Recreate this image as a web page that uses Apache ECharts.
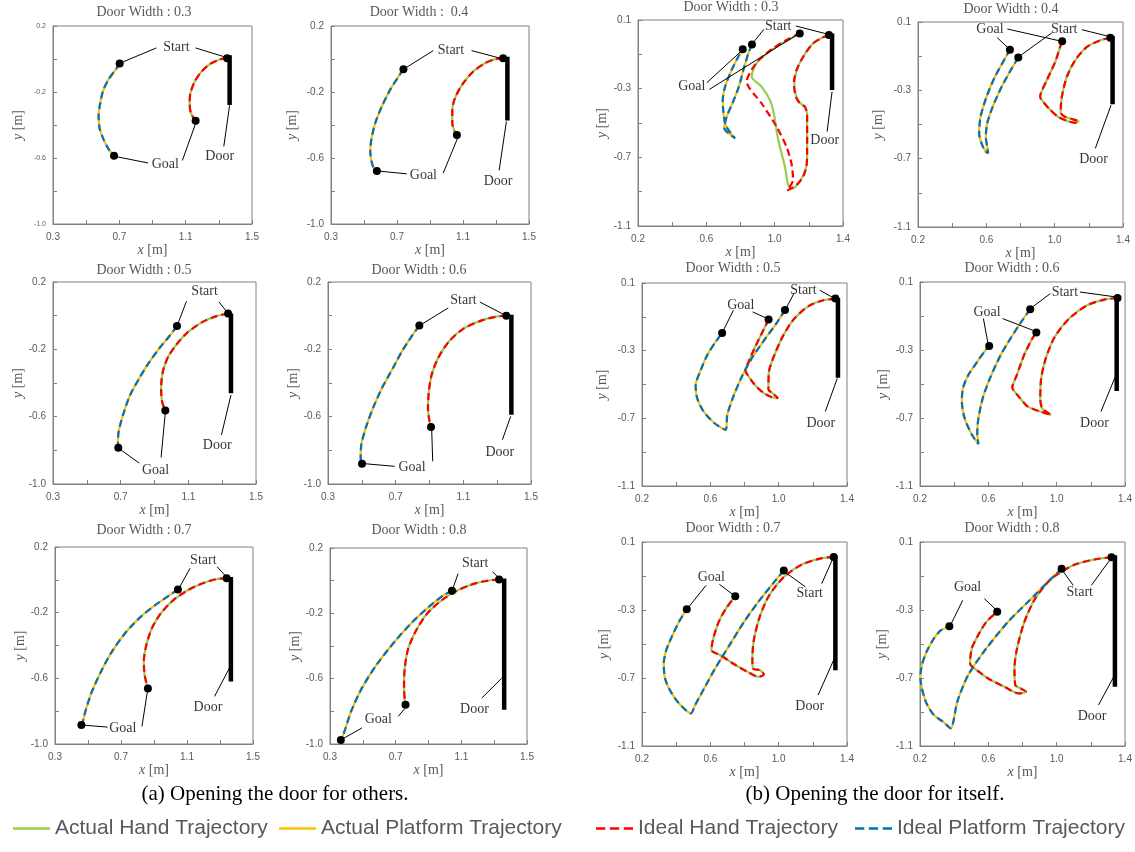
<!DOCTYPE html>
<html>
<head>
<meta charset="utf-8">
<title>Door opening trajectories</title>
<script src="https://cdn.jsdelivr.net/npm/echarts@6.0.0/dist/echarts.min.js"></script>
<style>
html, body { margin: 0; padding: 0; background: #fff; }
#chart { width: 1135px; height: 852px; }
</style>
</head>
<body>
<div id="chart"></div>
<script>
// titles of the 12 panels, (a) first then (b)
const titles = ['Door Width : 0.3', 'Door Width :  0.4', 'Door Width : 0.5', 'Door Width : 0.6', 'Door Width : 0.7', 'Door Width : 0.8',
    'Door Width : 0.3', 'Door Width : 0.4', 'Door Width : 0.5', 'Door Width : 0.6', 'Door Width : 0.7', 'Door Width : 0.8'];
const legendNames = ['Actual Hand Trajectory', 'Actual Platform Trajectory', 'Ideal Hand Trajectory', 'Ideal Platform Trajectory'];
const captions = ['(a) Opening the door for others.', '(b) Opening the door for itself.'];

// (a) Opening the door for others : [x, y] in metres
const handA03 = [[1.35, 0.005], [1.305, -0.003], [1.245, -0.031], [1.194, -0.078], [1.154, -0.138], [1.128, -0.209], [1.124, -0.269], [1.132, -0.33], [1.16, -0.374]];
const platA03 = [[0.702, -0.027], [0.682, -0.058], [0.632, -0.128], [0.60, -0.199], [0.581, -0.289], [0.575, -0.34], [0.581, -0.42], [0.606, -0.49], [0.638, -0.551], [0.668, -0.587]];
const doorA03 = [[1.365, 0.023], [1.365, -0.279]];
const tagsA03 = [['Start', 1.044, 0.073], ['Goal', 0.977, -0.64], ['Door', 1.305, -0.587]];
const leadA03 = [[0.923, 0.067, 0.705, -0.025], [1.16, 0.067, 1.335, 0.013], [0.873, -0.63, 0.672, -0.59], [1.08, -0.615, 1.164, -0.38], [1.33, -0.53, 1.365, -0.28]];

const handA04 = [[1.343, 0.004], [1.29, -0.002], [1.232, -0.026], [1.162, -0.076], [1.101, -0.147], [1.055, -0.228], [1.035, -0.308], [1.035, -0.389], [1.05, -0.44], [1.063, -0.46]];
const platA04 = [[0.739, -0.062], [0.709, -0.107], [0.658, -0.187], [0.608, -0.288], [0.568, -0.389], [0.544, -0.49], [0.538, -0.56], [0.548, -0.631], [0.564, -0.671], [0.578, -0.679]];
const doorA04 = [[1.369, 0.014], [1.369, -0.373]];
const tagsA04 = [['Start', 1.027, 0.055], ['Goal', 0.86, -0.708], ['Door', 1.313, -0.742]];
const leadA04 = [[0.92, 0.051, 0.749, -0.056], [1.152, 0.051, 1.329, 0.004], [0.759, -0.696, 0.584, -0.679], [0.98, -0.692, 1.067, -0.48], [1.319, -0.675, 1.363, -0.379]];

const handA05 = [[1.335, 0.013], [1.271, -0.001], [1.185, -0.037], [1.099, -0.096], [1.035, -0.165], [0.981, -0.244], [0.949, -0.333], [0.939, -0.432], [0.945, -0.511], [0.964, -0.564]];
const platA05 = [[1.033, -0.062], [0.992, -0.116], [0.928, -0.195], [0.864, -0.284], [0.81, -0.372], [0.756, -0.471], [0.714, -0.589], [0.688, -0.688], [0.684, -0.757], [0.686, -0.785]];
const doorA05 = [[1.352, 0.013], [1.352, -0.461]];
const tagsA05 = [['Start', 1.196, 0.145], ['Goal', 0.906, -0.921], ['Door', 1.271, -0.771]];
const leadA05 = [[1.089, 0.086, 1.035, -0.057], [1.281, 0.082, 1.331, 0.018], [0.81, -0.876, 0.692, -0.791], [0.939, -0.842, 0.964, -0.574], [1.296, -0.708, 1.352, -0.471]];

const handA06 = [[1.354, 0.0], [1.294, -0.006], [1.209, -0.028], [1.101, -0.077], [1.016, -0.152], [0.951, -0.251], [0.913, -0.35], [0.896, -0.45], [0.891, -0.549], [0.9, -0.628], [0.909, -0.661]];
const platA06 = [[0.84, -0.059], [0.801, -0.113], [0.737, -0.212], [0.684, -0.311], [0.619, -0.43], [0.566, -0.549], [0.523, -0.667], [0.497, -0.766], [0.493, -0.846], [0.501, -0.879]];
const doorA06 = [[1.384, 0.006], [1.384, -0.588]];
const tagsA06 = [['Start', 1.101, 0.089], ['Goal', 0.797, -0.899], ['Door', 1.316, -0.81]];
const leadA06 = [[1.011, 0.046, 0.844, -0.057], [1.198, 0.081, 1.341, 0.006], [0.694, -0.895, 0.512, -0.879], [0.919, -0.865, 0.913, -0.677], [1.331, -0.737, 1.38, -0.598]];

const handA07 = [[1.34, 0.009], [1.282, 0.005], [1.195, -0.021], [1.107, -0.062], [1.019, -0.122], [0.942, -0.203], [0.887, -0.295], [0.854, -0.396], [0.838, -0.497], [0.843, -0.578], [0.854, -0.629], [0.863, -0.662]];
const platA07 = [[1.045, -0.059], [0.997, -0.092], [0.909, -0.153], [0.821, -0.224], [0.733, -0.315], [0.645, -0.437], [0.579, -0.558], [0.524, -0.68], [0.487, -0.791], [0.469, -0.862], [0.46, -0.885]];
const doorA07 = [[1.366, 0.018], [1.366, -0.619]];
const tagsA07 = [['Start', 1.199, 0.121], ['Goal', 0.711, -0.903], ['Door', 1.227, -0.777]];
const leadA07 = [[1.118, 0.07, 1.052, -0.051], [1.282, 0.08, 1.337, 0.02], [0.619, -0.897, 0.469, -0.885], [0.827, -0.893, 0.86, -0.68], [1.267, -0.71, 1.362, -0.528]];

const handA08 = [[1.33, 0.007], [1.268, 0.001], [1.18, -0.018], [1.08, -0.058], [0.981, -0.119], [0.892, -0.201], [0.826, -0.302], [0.777, -0.414], [0.755, -0.536], [0.751, -0.658], [0.755, -0.729], [0.76, -0.76]];
const platA08 = [[1.043, -0.062], [0.992, -0.089], [0.914, -0.15], [0.804, -0.251], [0.693, -0.374], [0.583, -0.516], [0.494, -0.658], [0.428, -0.801], [0.395, -0.902], [0.375, -0.959], [0.366, -0.976]];
const doorA08 = [[1.361, 0.013], [1.361, -0.79]];
const tagsA08 = [['Start', 1.184, 0.104], ['Goal', 0.594, -0.851], ['Door', 1.18, -0.79]];
const leadA08 = [[1.08, 0.043, 1.047, -0.052], [1.29, 0.054, 1.328, 0.017], [0.494, -0.902, 0.38, -0.967], [0.715, -0.831, 0.755, -0.784], [1.224, -0.719, 1.346, -0.597]];

// (b) Opening the door for itself
const platB03 = [[0.867, -0.042], [0.846, -0.094], [0.82, -0.18], [0.79, -0.29], [0.755, -0.38], [0.72, -0.46], [0.705, -0.53], [0.73, -0.56], [0.768, -0.589], [0.74, -0.555], [0.712, -0.51], [0.70, -0.44], [0.696, -0.366], [0.71, -0.288], [0.748, -0.191], [0.787, -0.114], [0.813, -0.071]];
const handB03 = [[1.318, 0.013], [1.283, -0.001], [1.225, -0.036], [1.167, -0.114], [1.13, -0.19], [1.115, -0.27], [1.126, -0.345], [1.15, -0.385], [1.178, -0.405], [1.19, -0.45], [1.19, -0.56], [1.19, -0.68], [1.185, -0.755], [1.15, -0.835], [1.10, -0.885], [1.079, -0.861], [1.06, -0.754], [1.021, -0.599], [0.995, -0.444], [0.972, -0.366], [0.923, -0.288], [0.865, -0.23], [0.871, -0.201], [0.894, -0.152], [0.933, -0.114], [1.011, -0.055], [1.089, -0.013], [1.147, 0.022]];
const handIdealB03 = [[1.318, 0.013], [1.283, -0.001], [1.225, -0.036], [1.167, -0.114], [1.128, -0.191], [1.112, -0.269], [1.124, -0.347], [1.147, -0.385], [1.176, -0.405], [1.19, -0.453], [1.19, -0.56], [1.19, -0.677], [1.186, -0.754], [1.167, -0.813], [1.128, -0.861], [1.073, -0.894], [1.108, -0.83], [1.098, -0.735], [1.069, -0.638], [1.011, -0.521], [0.923, -0.385], [0.836, -0.259], [0.865, -0.19], [0.91, -0.13], [0.99, -0.065], [1.08, -0.01], [1.147, 0.022]];
const doorB03 = [[1.336, 0.022], [1.336, -0.308]];
const tagsB03 = [['Start', 1.021, 0.061], ['Goal', 0.515, -0.284], ['Door', 1.293, -0.599]];
const leadB03 = [[0.937, 0.046, 0.871, -0.036], [1.124, 0.065, 1.312, 0.017], [0.603, -0.265, 0.807, -0.079], [0.618, -0.304, 1.137, 0.018], [1.307, -0.55, 1.336, -0.317]];

const platB04 = [[0.787, -0.108], [0.748, -0.173], [0.689, -0.28], [0.637, -0.397], [0.605, -0.494], [0.597, -0.572], [0.605, -0.631], [0.611, -0.666], [0.597, -0.66], [0.572, -0.611], [0.558, -0.553], [0.566, -0.455], [0.601, -0.338], [0.65, -0.221], [0.709, -0.114], [0.738, -0.062]];
const handB04 = [[1.326, 0.008], [1.267, -0.007], [1.189, -0.046], [1.12, -0.124], [1.071, -0.221], [1.042, -0.338], [1.035, -0.43], [1.06, -0.455], [1.10, -0.468], [1.14, -0.482], [1.12, -0.49], [1.07, -0.478], [1.02, -0.455], [0.97, -0.41], [0.935, -0.37], [0.915, -0.338], [0.954, -0.241], [1.003, -0.134], [1.032, -0.046], [1.044, -0.013]];
const doorB04 = [[1.339, 0.016], [1.339, -0.381]];
const tagsB04 = [['Goal', 0.621, 0.055], ['Start', 1.056, 0.055], ['Door', 1.228, -0.705]];
const leadB04 = [[0.664, 0.008, 0.732, -0.056], [0.723, 0.059, 1.032, -0.011], [0.983, 0.036, 0.793, -0.101], [1.159, 0.055, 1.316, 0.016], [1.238, -0.64, 1.33, -0.387]];

const platB05 = [[1.037, -0.059], [0.986, -0.14], [0.922, -0.228], [0.848, -0.336], [0.784, -0.454], [0.731, -0.581], [0.699, -0.68], [0.689, -0.768], [0.625, -0.729], [0.561, -0.66], [0.523, -0.581], [0.514, -0.503], [0.54, -0.424], [0.582, -0.326], [0.625, -0.257], [0.669, -0.195]];
const handB05 = [[1.332, 0.008], [1.262, -0.002], [1.177, -0.035], [1.092, -0.11], [1.028, -0.208], [0.975, -0.326], [0.943, -0.424], [0.94, -0.53], [0.965, -0.552], [0.996, -0.58], [0.96, -0.575], [0.92, -0.555], [0.88, -0.523], [0.84, -0.475], [0.805, -0.414], [0.816, -0.385], [0.858, -0.287], [0.901, -0.198], [0.941, -0.116]];
const doorB05 = [[1.347, 0.012], [1.347, -0.46]];
const tagsB05 = [['Start', 1.145, 0.057], ['Goal', 0.778, -0.032], ['Door', 1.247, -0.729]];
const leadB05 = [[1.092, 0.043, 1.043, -0.051], [1.241, 0.057, 1.321, 0.012], [0.735, -0.061, 0.674, -0.185], [0.848, -0.071, 0.933, -0.11], [1.273, -0.66, 1.343, -0.464]];

const platB06 = [[0.845, -0.06], [0.799, -0.125], [0.736, -0.222], [0.672, -0.33], [0.609, -0.467], [0.567, -0.584], [0.542, -0.701], [0.535, -0.789], [0.542, -0.854], [0.504, -0.799], [0.461, -0.701], [0.445, -0.604], [0.451, -0.525], [0.483, -0.447], [0.535, -0.369], [0.577, -0.31], [0.605, -0.277]];
const handB06 = [[1.356, 0.006], [1.284, -0.002], [1.178, -0.037], [1.073, -0.115], [0.989, -0.222], [0.936, -0.349], [0.909, -0.467], [0.904, -0.584], [0.915, -0.643], [0.968, -0.682], [0.904, -0.662], [0.831, -0.633], [0.778, -0.574], [0.74, -0.521], [0.767, -0.447], [0.809, -0.33], [0.852, -0.242], [0.881, -0.197]];
const doorB06 = [[1.351, 0.018], [1.351, -0.541]];
const tagsB06 = [['Start', 1.048, 0.041], ['Goal', 0.592, -0.076], ['Door', 1.221, -0.731]];
const leadB06 = [[0.963, 0.032, 0.852, -0.052], [1.136, 0.041, 1.347, 0.012], [0.571, -0.115, 0.599, -0.267], [0.683, -0.115, 0.873, -0.189], [1.259, -0.662, 1.343, -0.457]];

const platB07 = [[1.03, -0.068], [0.966, -0.145], [0.881, -0.252], [0.797, -0.37], [0.712, -0.507], [0.628, -0.644], [0.564, -0.761], [0.511, -0.859], [0.486, -0.908], [0.416, -0.849], [0.363, -0.771], [0.335, -0.703], [0.327, -0.615], [0.342, -0.536], [0.374, -0.458], [0.416, -0.37], [0.462, -0.295]];
const handB07 = [[1.322, 0.012], [1.241, 0.002], [1.135, -0.033], [1.03, -0.106], [0.945, -0.213], [0.892, -0.331], [0.856, -0.468], [0.846, -0.585], [0.85, -0.644], [0.892, -0.654], [0.913, -0.679], [0.881, -0.693], [0.818, -0.664], [0.733, -0.615], [0.659, -0.566], [0.606, -0.536], [0.617, -0.468], [0.649, -0.37], [0.691, -0.292], [0.746, -0.219]];
const doorB07 = [[1.332, 0.022], [1.332, -0.654]];
const tagsB07 = [['Goal', 0.606, -0.109], ['Start', 1.182, -0.203], ['Door', 1.182, -0.869]];
const leadB07 = [[0.575, -0.155, 0.469, -0.288], [0.653, -0.149, 0.738, -0.213], [1.157, -0.164, 1.04, -0.08], [1.252, -0.145, 1.317, 0.002], [1.231, -0.8, 1.326, -0.585]];

const platB08 = [[1.029, -0.057], [0.948, -0.135], [0.842, -0.243], [0.715, -0.37], [0.588, -0.526], [0.482, -0.683], [0.418, -0.84], [0.38, -0.996], [0.334, -0.957], [0.281, -0.918], [0.238, -0.849], [0.211, -0.761], [0.202, -0.693], [0.211, -0.624], [0.238, -0.546], [0.281, -0.468], [0.323, -0.419], [0.372, -0.395]];
const handB08 = [[1.321, 0.01], [1.224, -0.002], [1.097, -0.037], [0.97, -0.115], [0.874, -0.233], [0.811, -0.37], [0.768, -0.526], [0.753, -0.644], [0.758, -0.742], [0.789, -0.761], [0.821, -0.781], [0.779, -0.791], [0.694, -0.752], [0.599, -0.703], [0.546, -0.664], [0.493, -0.615], [0.503, -0.526], [0.535, -0.458], [0.588, -0.37], [0.652, -0.311]];
const doorB08 = [[1.341, 0.022], [1.341, -0.752]];
const tagsB08 = [['Goal', 0.478, -0.164], ['Start', 1.135, -0.198], ['Door', 1.207, -0.928]];
const leadB08 = [[0.45, -0.243, 0.38, -0.386], [0.577, -0.233, 0.647, -0.301], [1.097, -0.155, 1.033, -0.066], [1.203, -0.155, 1.317, 0.002], [1.245, -0.859, 1.334, -0.693]];

// axis ranges
const rangeA = {x: [0.3, 1.5], y: [-1.0, 0.2]};
const rangeB = {x: [0.2, 1.4], y: [-1.1, 0.1]};

const panels = [
    {hand: handA03, handIdeal: handA03, plat: platA03, door: doorA03, tags: tagsA03, lead: leadA03, range: rangeA},
    {hand: handA04, handIdeal: handA04, plat: platA04, door: doorA04, tags: tagsA04, lead: leadA04, range: rangeA},
    {hand: handA05, handIdeal: handA05, plat: platA05, door: doorA05, tags: tagsA05, lead: leadA05, range: rangeA},
    {hand: handA06, handIdeal: handA06, plat: platA06, door: doorA06, tags: tagsA06, lead: leadA06, range: rangeA},
    {hand: handA07, handIdeal: handA07, plat: platA07, door: doorA07, tags: tagsA07, lead: leadA07, range: rangeA},
    {hand: handA08, handIdeal: handA08, plat: platA08, door: doorA08, tags: tagsA08, lead: leadA08, range: rangeA},
    {hand: handB03, handIdeal: handIdealB03, plat: platB03, door: doorB03, tags: tagsB03, lead: leadB03, range: rangeB},
    {hand: handB04, handIdeal: handB04, plat: platB04, door: doorB04, tags: tagsB04, lead: leadB04, range: rangeB},
    {hand: handB05, handIdeal: handB05, plat: platB05, door: doorB05, tags: tagsB05, lead: leadB05, range: rangeB},
    {hand: handB06, handIdeal: handB06, plat: platB06, door: doorB06, tags: tagsB06, lead: leadB06, range: rangeB},
    {hand: handB07, handIdeal: handB07, plat: platB07, door: doorB07, tags: tagsB07, lead: leadB07, range: rangeB},
    {hand: handB08, handIdeal: handB08, plat: platB08, door: doorB08, tags: tagsB08, lead: leadB08, range: rangeB}
];

// layout: [left, top, width, height] of each plot box
const boxes = [
    [53, 26, 199, 198], [331, 26, 198, 198],
    [53, 282, 203, 202], [328, 282, 203, 202],
    [55, 547, 198, 197], [330, 548, 197, 196],
    [638, 20, 205, 206], [918, 22, 205, 205],
    [642, 283, 205, 203], [920, 282, 206, 204],
    [642, 542, 205, 204], [920, 542, 205, 204]
];
const titlePos = [[144, 12], [419, 12], [144, 270], [419, 270], [144, 530], [419, 530],
    [731, 7], [1011, 9], [733, 268], [1012, 268], [733, 528], [1012, 528]];
const yNameGap = [28, 32, 26, 28, 28, 28, 29, 33, 33, 30, 31, 31];

const SERIF = '"Liberation Serif", "Times New Roman", serif';
const SANS = '"Liberation Sans", Arial, sans-serif';
const GREY = '#595959';
const AXIS = '#808080';
const COLORS = ['#92D050', '#FFC000', '#FF0000', '#0070C0'];
const DASH = [7, 4];
// legend keys: a solid bar or three dashes
const SOLID_KEY = 'path://M0,0h36v2.6h-36z';
const DASH_KEY = 'path://M0,0h9v2.6h-9z M13.5,0h9v2.6h-9z M27,0h9v2.6h-9z';

function axisName(letter) {
    return {
        name: '{it|' + letter + '} [m]',
        nameLocation: 'middle',
        nameTextStyle: {
            fontFamily: SERIF, fontSize: 14, color: GREY,
            rich: {it: {fontFamily: SERIF, fontStyle: 'italic', fontSize: 14, color: GREY}}
        }
    };
}

function axisFor(i, range, isX) {
    return Object.assign(axisName(isX ? 'x' : 'y'), {
        gridIndex: i, type: 'value', min: range[0], max: range[1], interval: 0.4,
        nameGap: isX ? 13 : yNameGap[i],
        axisLine: {show: true, onZero: false, lineStyle: {color: AXIS, width: 1}},
        axisTick: {show: true, inside: true, length: 4, lineStyle: {color: AXIS}},
        minorTick: {show: true, splitNumber: 2, length: 4, lineStyle: {color: AXIS}},
        axisLabel: {
            fontFamily: SANS, fontSize: (!isX && i === 0) ? 7 : 10, color: GREY, margin: isX ? 8 : 7,
            formatter: function (v) { return v.toFixed(1); }
        },
        splitLine: {show: false}
    });
}

function trajectory(name, data, i, color, dashed) {
    return {
        type: 'line', name: name, data: data, xAxisIndex: i, yAxisIndex: i,
        symbol: 'none', smooth: 0.25, silent: true, z: dashed ? 3 : 2,
        lineStyle: {color: color, width: 2.2, type: dashed ? DASH : 'solid'},
        itemStyle: {color: color}
    };
}

let grids = [], xAxes = [], yAxes = [], series = [], graphics = [];
panels.forEach(function (p, i) {
    let b = boxes[i];
    grids.push({left: b[0], top: b[1], width: b[2], height: b[3], show: true, borderColor: AXIS, borderWidth: 1});
    xAxes.push(axisFor(i, p.range.x, true));
    yAxes.push(axisFor(i, p.range.y, false));

    series.push(trajectory(legendNames[0], p.hand, i, COLORS[0], false));
    series.push(trajectory(legendNames[1], p.plat, i, COLORS[1], false));
    series.push(trajectory(legendNames[2], p.handIdeal, i, COLORS[2], true));
    series.push(trajectory(legendNames[3], p.plat, i, COLORS[3], true));

    // door leaf
    series.push({
        type: 'line', data: p.door, xAxisIndex: i, yAxisIndex: i, symbol: 'none', silent: true, z: 5,
        lineStyle: {color: '#000', width: 4.5}
    });
    // leader lines of the annotations
    series.push({
        type: 'lines', coordinateSystem: 'cartesian2d', xAxisIndex: i, yAxisIndex: i, silent: true, z: 4,
        data: p.lead.map(function (l) { return {coords: [[l[0], l[1]], [l[2], l[3]]]}; }),
        lineStyle: {color: '#000', width: 1, opacity: 1}
    });
    // start / goal points
    let h = p.handIdeal, q = p.plat;
    series.push({
        type: 'scatter', xAxisIndex: i, yAxisIndex: i, silent: true, z: 6, symbolSize: 8,
        data: [h[0], h[h.length - 1], q[0], q[q.length - 1]],
        itemStyle: {color: '#000', opacity: 1}
    });
    // annotation texts
    series.push({
        type: 'scatter', xAxisIndex: i, yAxisIndex: i, silent: true, z: 7, symbolSize: 1,
        data: p.tags.map(function (t) { return {name: t[0], value: [t[1], t[2]]}; }),
        itemStyle: {color: 'rgba(0,0,0,0)'},
        label: {show: true, position: 'inside', formatter: '{b}', color: '#000', fontFamily: SERIF, fontSize: 14}
    });

    graphics.push({
        type: 'text', x: titlePos[i][0], y: titlePos[i][1], silent: true,
        style: {text: titles[i], fill: GREY, fontFamily: SERIF, fontSize: 14, textAlign: 'center', textVerticalAlign: 'middle'}
    });
});

graphics.push({
    type: 'text', x: 275, y: 794, silent: true,
    style: {text: captions[0], fill: '#000', fontFamily: SERIF, fontSize: 21, textAlign: 'center', textVerticalAlign: 'middle'}
});
graphics.push({
    type: 'text', x: 875, y: 794, silent: true,
    style: {text: captions[1], fill: '#000', fontFamily: SERIF, fontSize: 21, textAlign: 'center', textVerticalAlign: 'middle'}
});

const legendLeft = [13, 279, 596, 855];
const legends = legendNames.map(function (n, k) {
    return {
        data: [{name: n, icon: k >= 2 ? DASH_KEY : SOLID_KEY}],
        left: legendLeft[k], top: 818, padding: 0, itemWidth: 37, itemHeight: 14,
        selectedMode: false,
        textStyle: {fontFamily: SANS, fontSize: 21, color: GREY}
    };
});

let chart = echarts.init(document.getElementById('chart'));
chart.setOption({
    backgroundColor: '#fff',
    animation: false,
    grid: grids,
    xAxis: xAxes,
    yAxis: yAxes,
    legend: legends,
    graphic: graphics,
    series: series
});
</script>
</body>
</html>
